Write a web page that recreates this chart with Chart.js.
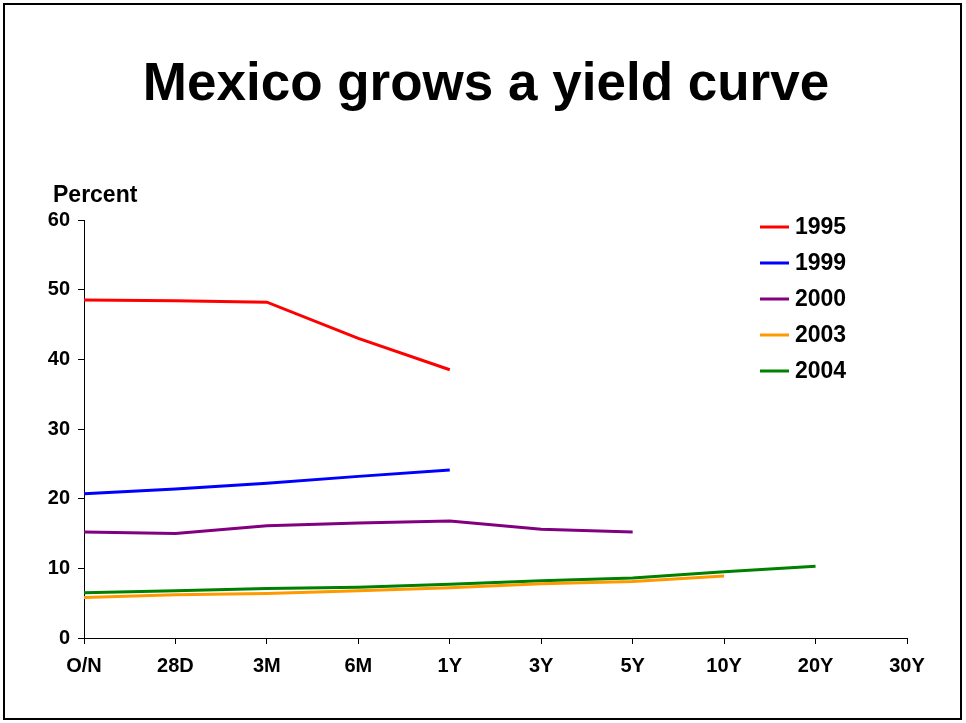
<!DOCTYPE html>
<html>
<head>
<meta charset="utf-8">
<script src="https://cdn.jsdelivr.net/npm/chart.js@4/dist/chart.umd.min.js"></script>
<style>
  html, body { margin: 0; padding: 0; background: #fff; }
  #wrap { position: relative; width: 966px; height: 723px; }
  #frame { position: absolute; left: 3px; top: 3px; width: 955px; height: 713px; border: 2px solid #000; pointer-events: none; }
</style>
</head>
<body>
<div id="wrap">
  <canvas id="chart" width="966" height="723"></canvas>
  <div id="frame"></div>
</div>
<script>
// maturities on the x axis
const maturities = ['O/N', '28D', '3M', '6M', '1Y', '3Y', '5Y', '10Y', '20Y', '30Y'];

// yields in percent (null = no data)
const y1995 = [48.5, 48.4, 48.2, 43.0, 38.5, null, null, null, null, null];
const y1999 = [20.7, 21.4, 22.2, 23.2, 24.1, null, null, null, null, null];
const y2000 = [15.2, 15.0, 16.1, 16.5, 16.8, 15.6, 15.2, null, null, null];
const y2003 = [5.8, 6.2, 6.4, 6.8, 7.2, 7.8, 8.1, 8.9, null, null];
const y2004 = [6.5, 6.8, 7.1, 7.3, 7.7, 8.2, 8.6, 9.5, 10.3, null];

const seriesNames = ['1995', '1999', '2000', '2003', '2004'];
const seriesColors = ['#ff0000', '#0000ff', '#800080', '#ff9900', '#008000'];

const FONT = '"Liberation Sans", Arial, sans-serif';

// title, "Percent" label and the legend drawn by hand
const decorations = {
    id: 'decorations',
    afterDraw(chart) {
        const ctx = chart.ctx;
        ctx.save();
        ctx.fillStyle = '#000';
        ctx.textBaseline = 'alphabetic';

        ctx.font = 'bold 53px ' + FONT;
        ctx.textAlign = 'center';
        ctx.fillText('Mexico grows a yield curve', 486, 100);

        ctx.font = 'bold 23px ' + FONT;
        ctx.textAlign = 'left';
        ctx.fillText('Percent', 53, 202);

        // legend
        ctx.font = 'bold 23px ' + FONT;
        ctx.textBaseline = 'middle';
        chart.data.datasets.forEach((ds, i) => {
            const y = 227 + i * 36;
            ctx.strokeStyle = ds.borderColor;
            ctx.lineWidth = 3;
            ctx.beginPath();
            ctx.moveTo(760, y);
            ctx.lineTo(789, y);
            ctx.stroke();
            ctx.fillText(ds.label, 795, y + 1);
        });
        ctx.restore();
    }
};

const allSeries = [y1995, y1999, y2000, y2003, y2004];

new Chart(document.getElementById('chart').getContext('2d'), {
    type: 'line',
    data: {
        labels: maturities,
        datasets: allSeries.map((vals, i) => ({
            label: seriesNames[i],
            data: vals,
            borderColor: seriesColors[i],
            backgroundColor: seriesColors[i],
            borderWidth: 3,
            pointRadius: 0,
            tension: 0,
            spanGaps: false
        }))
    },
    options: {
        responsive: false,
        animation: false,
        layout: { padding: { top: 220, left: 0, right: 59, bottom: 35 } },
        scales: {
            x: {
                offset: false,
                grid: { drawOnChartArea: false, tickLength: 6, tickColor: '#000' },
                border: { display: true, color: '#000', width: 1 },
                ticks: {
                    color: '#000', padding: 10, maxRotation: 0, autoSkip: false,
                    font: { family: FONT, size: 20, weight: 'bold' }
                },
                afterFit(scale) { scale.height = 50; }
            },
            y: {
                min: 0, max: 60,
                grid: { drawOnChartArea: false, tickLength: 6, tickColor: '#000' },
                border: { display: true, color: '#000', width: 1 },
                ticks: {
                    stepSize: 10, color: '#000', padding: 8,
                    font: { family: FONT, size: 20, weight: 'bold' }
                },
                afterFit(scale) { scale.width = 84; }
            }
        },
        plugins: {
            legend: { display: false },
            title: { display: false },
            tooltip: { enabled: false }
        }
    },
    plugins: [decorations]
});
</script>
</body>
</html>
